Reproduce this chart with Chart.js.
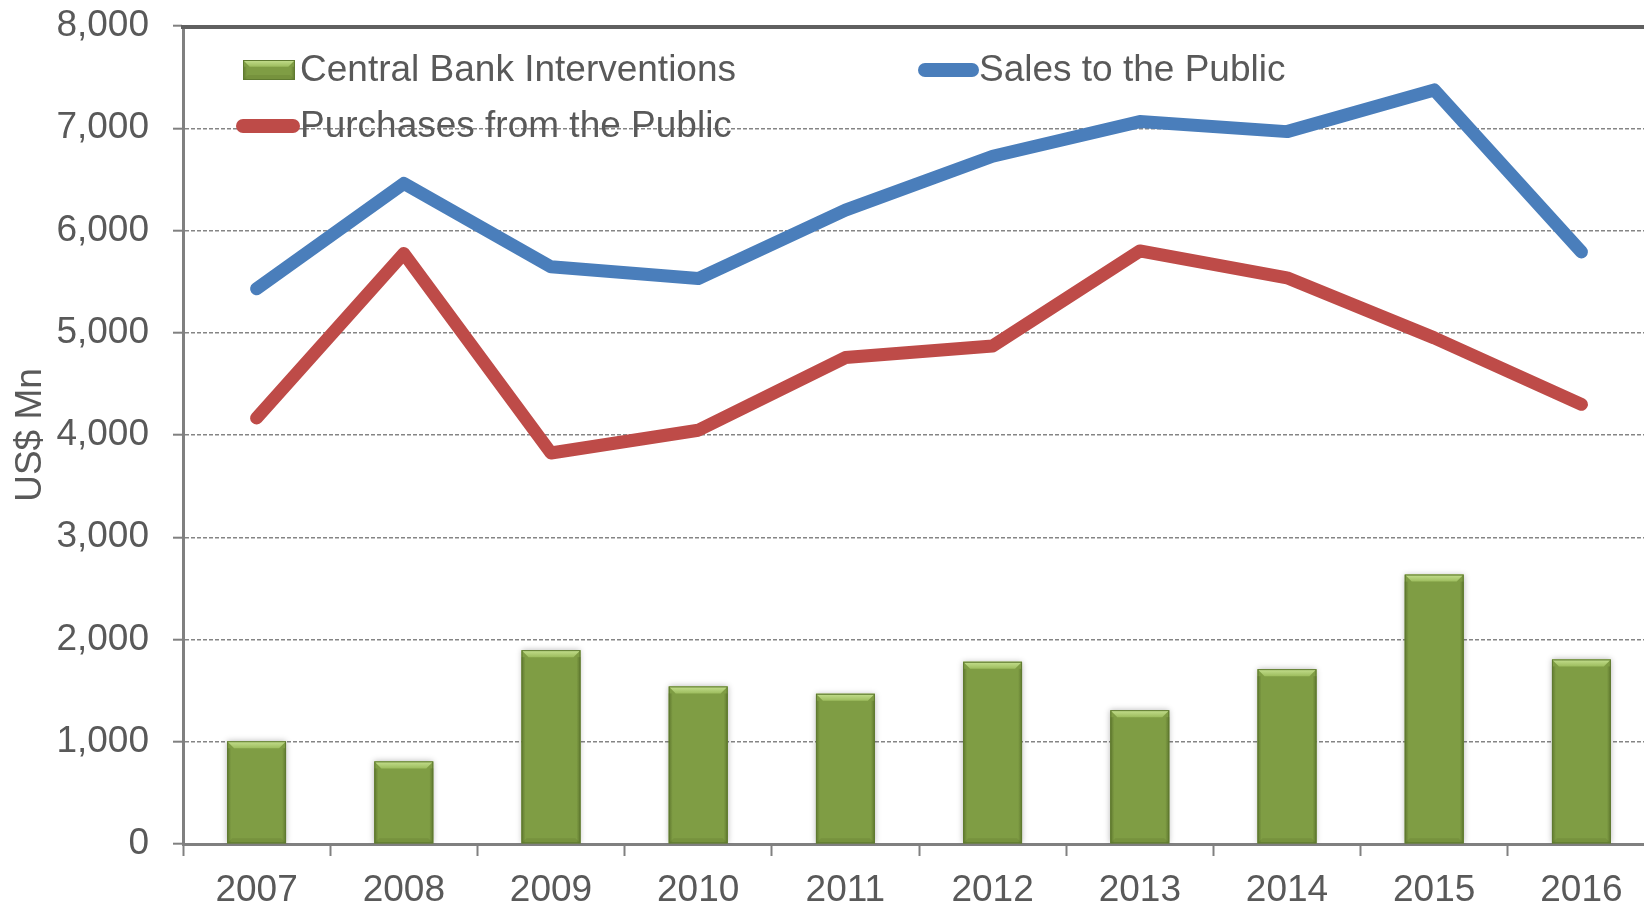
<!DOCTYPE html>
<html>
<head>
<meta charset="utf-8">
<title>Central Bank Interventions</title>
<script src="https://cdn.jsdelivr.net/npm/chart.js@4/dist/chart.umd.min.js"></script>
<style>
  html, body { margin: 0; padding: 0; background: #fff; overflow: hidden; }
  #wrap { width: 1680px; height: 906px; }
</style>
</head>
<body>
<div id="wrap"><canvas id="fxChart" width="1680" height="906"></canvas></div>
<script>
// yearly figures, US$ Mn
const years = ['2007', '2008', '2009', '2010', '2011', '2012', '2013', '2014', '2015', '2016'];
const interventions = [1005, 808, 1896, 1541, 1469, 1782, 1309, 1710, 2635, 1805];
const salesToPublic = [5430, 6460, 5645, 5530, 6200, 6726, 7065, 6967, 7375, 5790];
const purchasesFromPublic = [4166, 5775, 3824, 4046, 4757, 4870, 5800, 5537, 4950, 4300];
const yTicks = [0, 1000, 2000, 3000, 4000, 5000, 6000, 7000, 8000];

const FONT = '"Liberation Sans", Arial, sans-serif';
const TEXT = '#595959';
const AXIS = '#808080';
const GREEN = '#7f9d44';
const BLUE = '#4a7ebb';
const RED = '#be4b48';

// green block with a light top bevel, used for bars and the legend key
function bevelRect(ctx, l, t, w, h) {
  const r = l + w, b = t + h;
  const bv = Math.min(7, h / 3);
  ctx.save();
  ctx.fillStyle = GREEN;
  ctx.fillRect(l, t, w, h);
  let g = ctx.createLinearGradient(0, t, 0, t + bv);
  g.addColorStop(0, '#c5df8f');
  g.addColorStop(1, '#9dbd5e');
  ctx.fillStyle = g;
  ctx.beginPath();
  ctx.moveTo(l, t); ctx.lineTo(r, t); ctx.lineTo(r - bv, t + bv); ctx.lineTo(l + bv, t + bv);
  ctx.closePath(); ctx.fill();
  // darker sides and foot
  g = ctx.createLinearGradient(l, 0, l + 4, 0);
  g.addColorStop(0, 'rgba(70,90,30,0.55)'); g.addColorStop(1, 'rgba(70,90,30,0)');
  ctx.fillStyle = g; ctx.fillRect(l, t + bv, 4, h - bv);
  g = ctx.createLinearGradient(r, 0, r - 4, 0);
  g.addColorStop(0, 'rgba(70,90,30,0.55)'); g.addColorStop(1, 'rgba(70,90,30,0)');
  ctx.fillStyle = g; ctx.fillRect(r - 4, t + bv, 4, h - bv);
  ctx.fillStyle = 'rgba(70,90,30,0.15)';
  ctx.beginPath();
  ctx.moveTo(l, b); ctx.lineTo(r, b); ctx.lineTo(r - 5, b - 5); ctx.lineTo(l + 5, b - 5);
  ctx.closePath(); ctx.fill();
  ctx.strokeStyle = '#5f7a30';
  ctx.lineWidth = 1;
  ctx.strokeRect(l + 0.5, t + 0.5, w - 1, h - 1);
  ctx.restore();
}

const barLook = {
  id: 'barLook',
  beforeDatasetDraw(chart, args) {
    if (chart.data.datasets[args.index].type !== 'bar') return;
    const ctx = chart.ctx;
    ctx.save();
    ctx.shadowColor = 'rgba(0,0,0,0.28)';
    ctx.shadowBlur = 6;
  },
  afterDatasetDraw(chart, args) {
    if (chart.data.datasets[args.index].type !== 'bar') return;
    const ctx = chart.ctx;
    ctx.restore();
    args.meta.data.forEach(bar => {
      const p = bar.getProps(['x', 'y', 'base', 'width'], true);
      bevelRect(ctx, p.x - p.width / 2, p.y, p.width, p.base - p.y);
    });
  }
};

// top frame line plus the in-plot legend
const frameAndLegend = {
  id: 'frameAndLegend',
  afterDatasetsDraw(chart) {
    const ctx = chart.ctx;
    const a = chart.chartArea;
    ctx.save();
    ctx.strokeStyle = '#606060';
    ctx.lineWidth = 4;
    ctx.beginPath();
    ctx.moveTo(a.left - 2, a.top + 1);
    ctx.lineTo(a.right + 10, a.top + 1);
    ctx.stroke();

    const ds = chart.data.datasets;
    const items = [
      {d: ds[0], x: 243, y: 70, textX: 300},
      {d: ds[1], x: 918, y: 70, textX: 979},
      {d: ds[2], x: 236, y: 126, textX: 300}
    ];
    ctx.font = '37px ' + FONT;
    ctx.textBaseline = 'middle';
    ctx.fillStyle = TEXT;
    items.forEach(it => {
      if (it.d.type === 'bar') {
        bevelRect(ctx, it.x, it.y - 10, 52, 20);
      } else {
        ctx.strokeStyle = it.d.borderColor;
        ctx.lineWidth = 14;
        ctx.lineCap = 'round';
        ctx.beginPath();
        ctx.moveTo(it.x + 7, it.y);
        ctx.lineTo(it.textX - 7, it.y);
        ctx.stroke();
      }
      ctx.fillStyle = TEXT;
      ctx.fillText(it.d.label, it.textX, it.y + 1);
    });
    ctx.restore();
  }
};

new Chart('fxChart', {
  type: 'bar',
  data: {
    labels: years,
    datasets: [
      {
        type: 'bar',
        label: 'Central Bank Interventions',
        data: interventions,
        backgroundColor: GREEN,
        barPercentage: 0.4,
        categoryPercentage: 1.0,
        order: 2
      },
      {
        type: 'line',
        label: 'Sales to the Public',
        data: salesToPublic,
        borderColor: BLUE,
        backgroundColor: BLUE,
        borderWidth: 13,
        borderCapStyle: 'round',
        borderJoinStyle: 'round',
        pointRadius: 0,
        tension: 0,
        order: 1
      },
      {
        type: 'line',
        label: 'Purchases from the Public',
        data: purchasesFromPublic,
        borderColor: RED,
        backgroundColor: RED,
        borderWidth: 13,
        borderCapStyle: 'round',
        borderJoinStyle: 'round',
        pointRadius: 0,
        tension: 0,
        order: 1
      }
    ]
  },
  options: {
    responsive: false,
    animation: false,
    devicePixelRatio: 1,
    layout: {padding: {top: 26, right: 25, bottom: 0, left: 0}},
    plugins: {
      legend: {display: false},
      tooltip: {enabled: false}
    },
    scales: {
      x: {
        offset: true,
        grid: {
          offset: true,
          drawOnChartArea: false,
          drawTicks: true,
          tickLength: 12,
          tickColor: AXIS,
          tickWidth: 2
        },
        border: {display: true, color: AXIS, width: 3},
        ticks: {
          color: TEXT,
          font: {family: FONT, size: 37},
          padding: 13,
          maxRotation: 0
        },
        afterFit(scale) { scale.height = 62; }
      },
      y: {
        min: 0,
        max: 8000,
        afterBuildTicks(scale) { scale.ticks = yTicks.map(v => ({value: v})); },
        grid: {
          color: '#858585',
          lineWidth: 1.4,
          drawTicks: true,
          tickLength: 10,
          tickColor: AXIS,
          tickWidth: 2
        },
        border: {display: true, color: AXIS, width: 3, dash: [4, 2]},
        ticks: {
          color: TEXT,
          font: {family: FONT, size: 37},
          padding: 24,
          callback: v => v.toLocaleString('en-US')
        },
        title: {
          display: true,
          text: 'US$ Mn',
          color: TEXT,
          font: {family: FONT, size: 37},
          padding: {top: 9, bottom: 0}
        },
        afterFit(scale) {
          scale.width = 183;
          // plot area edges come from the layout padding, not the label overhang
          scale.paddingTop = 0;
          scale.paddingBottom = 0;
        }
      }
    }
  },
  plugins: [barLook, frameAndLegend]
});
</script>
</body>
</html>
